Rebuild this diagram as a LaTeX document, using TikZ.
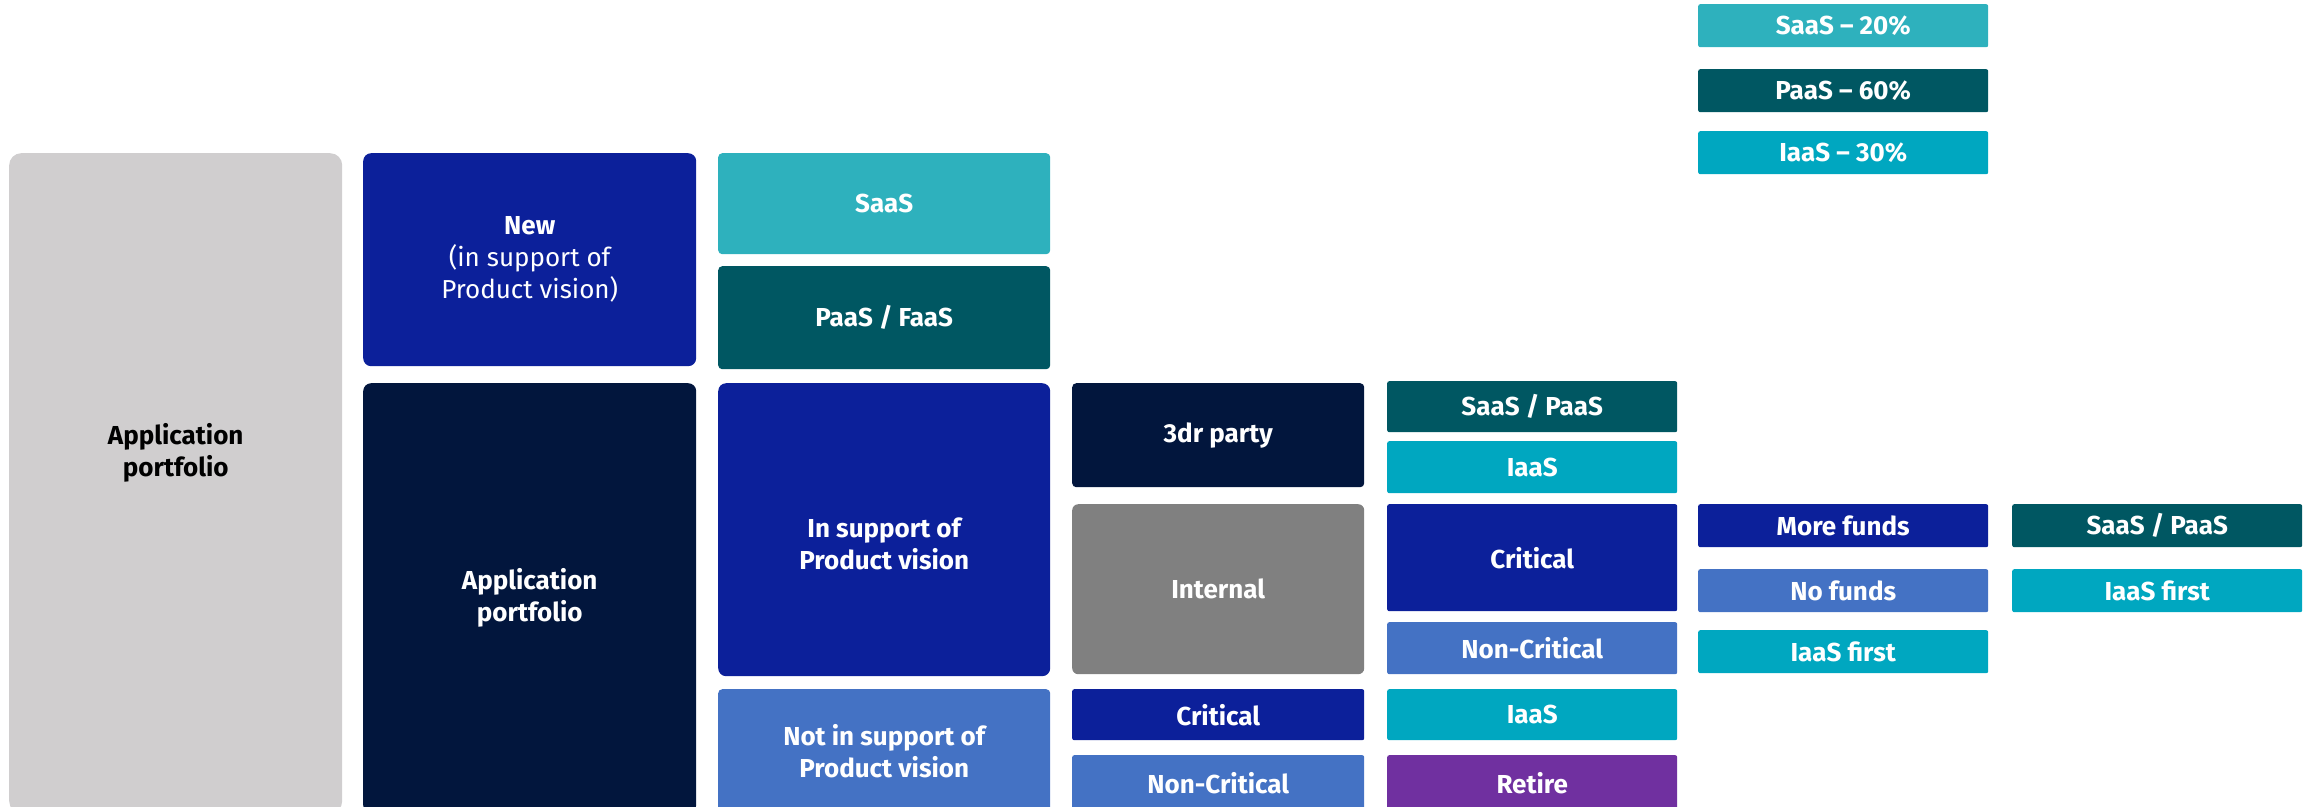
\documentclass[tikz,border=0pt]{standalone}
\usepackage{fontspec}
\setmainfont{Fira Sans}
\usepackage{tikz}

\definecolor{cGray}{HTML}{D0CECF}
\definecolor{cBlue}{HTML}{0C209A}
\definecolor{cNavy}{HTML}{02163D}
\definecolor{cTeal}{HTML}{2EB1BD}
\definecolor{cDeep}{HTML}{005762}
\definecolor{cCyan}{HTML}{00A7C0}
\definecolor{cMid}{HTML}{4472C4}
\definecolor{cStone}{HTML}{808080}
\definecolor{cPurple}{HTML}{7030A0}

\tikzset{
  tile/.style={rounded corners=2pt, inner sep=0pt, anchor=north west, align=center,
    text=white, font=\bfseries\fontsize{26}{32}\selectfont},
  bigtile/.style={tile, rounded corners=8pt},
}

\begin{document}
\begin{tikzpicture}[x=1pt,y=-1pt]
    \useasboundingbox (0,0) rectangle (2313,806);
    % first two columns
    \node[bigtile,fill=cGray,minimum width=333pt,minimum height=660pt,rounded corners=12pt,
      label={[align=center,font=\bfseries\fontsize{26}{32}\selectfont,yshift=30pt]center:Application\\portfolio}] (root) at (9,153) {};
    \node[bigtile,fill=cBlue,minimum width=333pt,minimum height=213pt] (new) at (363,153)
      {New\\\mdseries(in support of\\\mdseries Product vision)};
    \node[bigtile,fill=cNavy,minimum width=333pt,minimum height=430pt] (port) at (363,383) {Application\\portfolio};
    % third column
    \node[tile,fill=cTeal,minimum width=332pt,minimum height=101pt,rounded corners=4pt] (saas) at (718,153) {SaaS};
    \node[tile,fill=cDeep,minimum width=332pt,minimum height=103pt,rounded corners=4pt] (paas) at (718,266) {PaaS / FaaS};
    \node[bigtile,fill=cBlue,minimum width=332pt,minimum height=293pt,
      label={[align=center,text=white,font=\bfseries\fontsize{26}{32}\selectfont,yshift=-14pt]center:In support of\\Product vision}] (insup) at (718,383) {};
    \node[tile,fill=cMid,minimum width=332pt,minimum height=124pt,rounded corners=4pt] (notsup) at (718,689) {Not in support of\\Product vision};
    % fourth column
    \node[tile,fill=cNavy,minimum width=292pt,minimum height=104pt,rounded corners=4pt] (third) at (1072,383) {3dr party};
    \node[tile,fill=cStone,minimum width=292pt,minimum height=170pt,rounded corners=6pt] (internal) at (1072,504) {Internal};
    \node[tile,fill=cBlue,minimum width=292pt,minimum height=51pt] (crit) at (1072,689) {Critical};
    \node[tile,fill=cMid,minimum width=292pt,minimum height=55pt] (noncrit) at (1072,755) {Non-Critical};
    % fifth column
    \foreach \name/\y/\h/\col/\txt in {
      sp/381/51/cDeep/{SaaS / PaaS},
      ia/441/52/cCyan/IaaS,
      critb/504/107/cBlue/Critical,
      noncritb/622/52/cMid/Non-Critical,
      iab/689/51/cCyan/IaaS,
      retire/755/55/cPurple/Retire}
    \node[tile,fill=\col,minimum width=290pt,minimum height=\h pt] (\name) at (1387,\y) {\txt};
    % sixth column
    \foreach \name/\y/\col/\txt in {
      saasp/4/cTeal/{SaaS -- 20\%},
      paasp/69/cDeep/{PaaS -- 60\%},
      iaasp/131/cCyan/{IaaS -- 30\%},
      more/504/cBlue/More funds,
      nofund/569/cMid/No funds,
      iafirst/630/cCyan/IaaS first}
    \node[tile,fill=\col,minimum width=290pt,minimum height=43pt] (\name) at (1698,\y) {\txt};
    % last column
    \node[tile,fill=cDeep,minimum width=290pt,minimum height=43pt] (spb) at (2012,504) {SaaS / PaaS};
    \node[tile,fill=cCyan,minimum width=290pt,minimum height=43pt] (iafirstb) at (2012,569) {IaaS first};
  \end{tikzpicture}
\end{document}
